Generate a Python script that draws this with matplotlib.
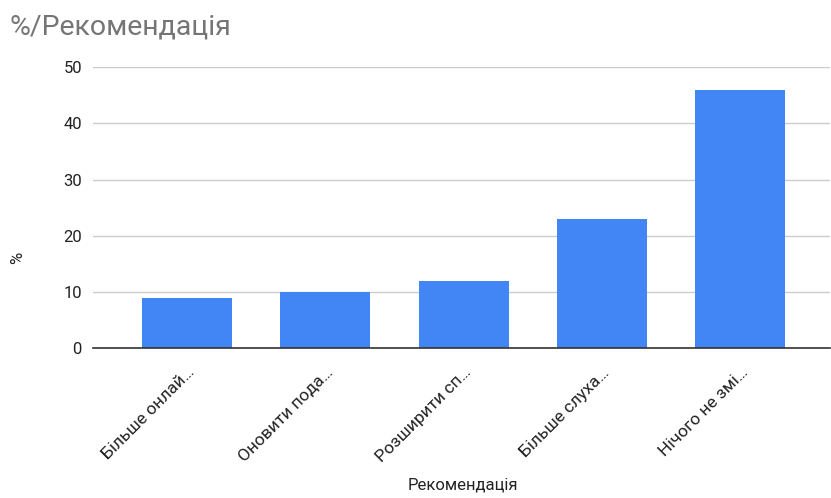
import matplotlib
matplotlib.use("Agg")
import matplotlib.pyplot as plt

categories = ["Більше онлай…", "Оновити пода…", "Розширити сп…", "Більше слуха…", "Нічого не змі…"]
values = [9, 10, 12, 23, 46]
yticks = [0, 10, 20, 30, 40, 50]

plt.rcParams['font.family'] = ['Roboto', 'DejaVu Sans']

fig = plt.figure(figsize=(8.31, 4.98), dpi=100)
ax = fig.add_axes([0.112, 0.301, 0.887, 0.564])

x = list(range(len(categories)))
ax.bar(x, values, width=0.65, color="#4285F4", zorder=3)
ax.set_xlim(-0.68, 4.65)
ax.set_ylim(0, 50)
ax.set_yticks(yticks)
ax.set_yticklabels([str(v) for v in yticks], fontsize=12, color="#222222")
ax.grid(axis='y', color="#cccccc", linewidth=1, zorder=0)
ax.set_xticks(x)
ax.set_xticklabels(categories, rotation=45, ha='right', va='top', rotation_mode='anchor',
                   fontsize=12.5, color="#222222")
for s in ['top', 'right', 'left']:
    ax.spines[s].set_visible(False)
ax.spines['bottom'].set_color("#333333")
ax.spines['bottom'].set_linewidth(1.2)
ax.spines['bottom'].set_zorder(4)
ax.tick_params(axis='y', length=0, pad=8)
ax.tick_params(axis='x', length=0, pad=12)

fig.text(0.557, 0.012, "Рекомендація", fontsize=12, color="#222222", ha='center', va='bottom')
fig.text(0.021, 0.483, "%", rotation=90, fontsize=12, color="#222222", ha='center', va='center')
fig.text(0.012, 0.945, "%/Рекомендація", fontsize=20.5, color="#757575", ha='left', va='center')

fig.savefig("out.png", dpi=100)
